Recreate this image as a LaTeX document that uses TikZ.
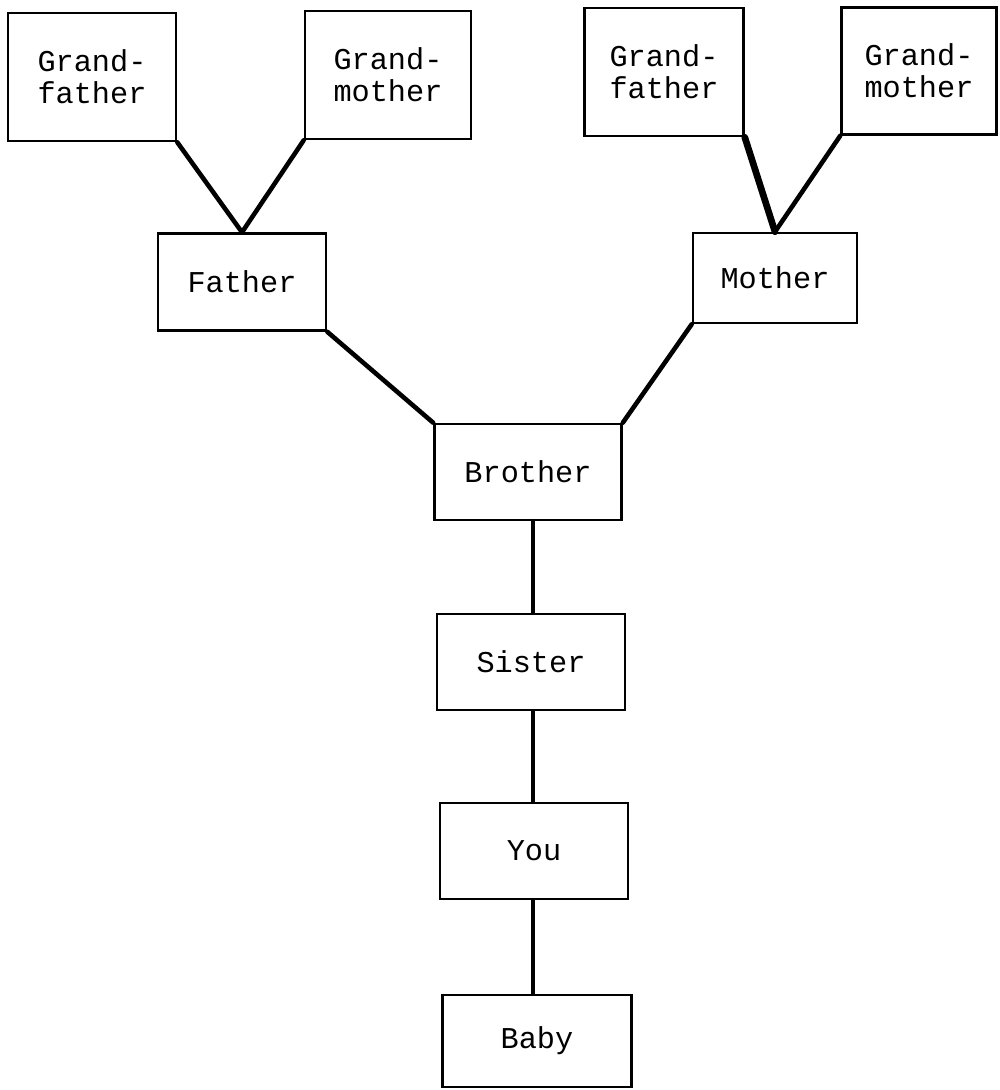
\documentclass[tikz,border=0pt]{standalone}
\usepackage{fontspec}
\setmonofont{Liberation Mono}
\tikzset{
  person/.style={draw, line width=0.7pt, rectangle, inner sep=0pt, align=center,
    font=\ttfamily\fontsize{8.6}{9}\selectfont},
  tie/.style={line width=1.3pt, line cap=round},
  heavytie/.style={line width=1.9pt, line cap=round}
}
\begin{document}
\begin{tikzpicture}[x=0.01cm, y=-0.01cm]
      \useasboundingbox (0,0) rectangle (999,1090);
      \node[person, minimum width=1.68cm, minimum height=1.28cm] (gfa) at (92,77) {Grand-\\father};
      \node[person, minimum width=1.66cm, minimum height=1.28cm] (gma) at (388,75) {Grand-\\mother};
      \node[person, minimum width=1.59cm, minimum height=1.28cm] (gfb) at (664,72) {Grand-\\father};
      \node[person, minimum width=1.55cm, minimum height=1.27cm] (gmb) at (919,71) {Grand-\\mother};
      \node[person, minimum width=1.68cm, minimum height=0.97cm] (father) at (242,282) {Father};
      \node[person, minimum width=1.64cm, minimum height=0.90cm] (mother) at (775,278) {Mother};
      \node[person, minimum width=1.87cm, minimum height=0.96cm] (brother) at (528,472) {Brother};
      \node[person, minimum width=1.88cm, minimum height=0.96cm] (sister) at (531,662) {Sister};
      \node[person, minimum width=1.88cm, minimum height=0.96cm] (you) at (534,851) {You};
      \node[person, minimum width=1.89cm, minimum height=0.92cm] (baby) at (537,1041) {Baby};
      \coordinate (stem) at (533,0);
      \begin{scope}[tie]
        \draw (gfa.south east) to (father.north);
        \draw (gma.south west) to (father.north);
        \draw[heavytie] (gfb.south east) to (mother.north);
        \draw (gmb.south west) to (mother.north);
        \draw (father.south east) to (brother.north west);
        \draw (mother.south west) to (brother.north east);
        \draw (stem |- brother.south) to (stem |- sister.north);
        \draw (stem |- sister.south) to (stem |- you.north);
        \draw (stem |- you.south) to (stem |- baby.north);
      \end{scope}
    \end{tikzpicture}
\end{document}
